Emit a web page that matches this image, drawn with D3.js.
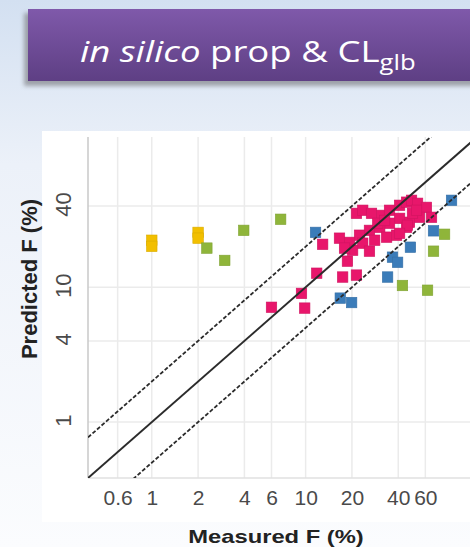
<!DOCTYPE html>
<html>
<head>
<meta charset="utf-8">
<script src="https://cdn.jsdelivr.net/npm/d3@7"></script>
<style>
  html, body { margin: 0; padding: 0; overflow: hidden; }
  svg { display: block; }
</style>
</head>
<body>
<div id="chart"></div>
<script>
// tick labels
const xTicks = [0.6, 1, 2, 4, 6, 10, 20, 40, 60];
const yTicks = [1, 4, 10, 40];

// [measured F, predicted F] per compound group
const yellowPts = [[1, 22.3], [1, 20.1], [2, 25.5], [2, 23.1]];
const greenPts = [[2.28, 19.5], [2.98, 15.8], [3.96, 26.4], [6.88, 31.9],
  [80, 24.7], [67.8, 18.5], [42.6, 10.3], [62, 9.5]];
const bluePts = [[11.6, 25.5], [88.8, 44.1], [67.8, 26.2], [48, 19.8],
  [36.7, 16.7], [39.6, 15.3], [34.1, 11.9], [16.8, 8.3], [19.9, 7.7]];
const pinkPts = [[21.4, 35.3], [23.5, 37.2], [26.8, 35.3], [31.2, 34.1],
  [35.1, 37.2], [40.8, 40.5], [45.3, 42.7], [48.8, 44.1], [53.4, 41.9],
  [61.0, 39.1], [65.8, 33.0], [55.0, 33.0], [47.3, 30.3], [40.8, 32.4],
  [35.1, 29.8], [30.3, 27.8], [26.0, 26.4], [22.4, 24.3], [16.6, 23.1],
  [19.3, 21.5], [23.5, 21.2], [28.1, 22.3], [33.6, 23.5], [39.0, 24.3],
  [45.3, 27.8], [12.9, 20.8], [26.0, 18.5], [20.2, 18.8], [18.7, 15.6],
  [11.8, 12.7], [17.4, 11.9], [21.4, 12.3], [9.4, 9.0], [9.86, 7.0],
  [6.0, 7.1], [49.5, 35.3], [29.4, 29.8], [17.9, 19.5], [45.9, 28.8],
  [40.8, 25.1], [32.6, 31.3], [52.6, 37.2]];

const ratios = [1, 2, 0.5];

const W = 470, H = 547;
const svg = d3.select("#chart").append("svg")
  .attr("width", W).attr("height", H);

const defs = svg.append("defs");
const bg = defs.append("linearGradient").attr("id", "bg")
  .attr("x1", 0).attr("y1", 0).attr("x2", 0).attr("y2", 1);
bg.append("stop").attr("offset", "0%").attr("stop-color", "#d3e0f1");
bg.append("stop").attr("offset", "30%").attr("stop-color", "#ecf1f9");
bg.append("stop").attr("offset", "100%").attr("stop-color", "#fbfcfe");

const banner = defs.append("linearGradient").attr("id", "banner")
  .attr("x1", 0).attr("y1", 0).attr("x2", 0).attr("y2", 1);
banner.append("stop").attr("offset", "0%").attr("stop-color", "#7f59aa");
banner.append("stop").attr("offset", "100%").attr("stop-color", "#5e3f84");

const blur = defs.append("filter").attr("id", "shadow")
  .attr("x", "-10%").attr("y", "-20%").attr("width", "120%").attr("height", "150%");
blur.append("feGaussianBlur").attr("stdDeviation", 2);

svg.append("rect").attr("width", W).attr("height", H).attr("fill", "url(#bg)");

// title banner
svg.append("rect").attr("x", 24).attr("y", 13).attr("width", 460).attr("height", 73)
  .attr("fill", "#8d9096").attr("opacity", 0.8).attr("filter", "url(#shadow)");
svg.append("rect").attr("x", 28).attr("y", 9).attr("width", 450).attr("height", 72)
  .attr("fill", "url(#banner)");

const title = svg.append("text")
  .attr("transform", "translate(80,62) scale(1.22,1)")
  .attr("fill", "#fff")
  .style("font-family", "'Open Sans', sans-serif")
  .style("font-size", "30px");
title.append("tspan").style("font-style", "italic").text("in silico");
title.append("tspan").text(" prop & CL");
title.append("tspan").attr("dy", 8).style("font-size", "21px").text("glb");

// chart picture area
svg.append("rect").attr("x", 42).attr("y", 131).attr("width", 440).attr("height", 391)
  .attr("fill", "#fff");

const pLeft = 88, pRight = 477, pTop = 137, pBottom = 478;

const x = d3.scaleLog().domain([0.385, 130]).range([pLeft, pRight]);
const y = d3.scaleLog().domain([0.385, 130]).range([pBottom, pTop]);

// grid
svg.append("g").selectAll("line").data(xTicks).join("line")
  .attr("x1", d => x(d)).attr("x2", d => x(d))
  .attr("y1", pTop).attr("y2", pBottom)
  .attr("stroke", "#ebebeb").attr("stroke-width", 1.5);
svg.append("g").selectAll("line").data(yTicks).join("line")
  .attr("y1", d => y(d)).attr("y2", d => y(d))
  .attr("x1", pLeft).attr("x2", pRight)
  .attr("stroke", "#ebebeb").attr("stroke-width", 1.5);

svg.append("line").attr("x1", pLeft).attr("x2", pLeft).attr("y1", pTop).attr("y2", pBottom)
  .attr("stroke", "#c8c8c8").attr("stroke-width", 1.5);
svg.append("line").attr("x1", pLeft).attr("x2", pRight).attr("y1", pBottom).attr("y2", pBottom)
  .attr("stroke", "#e0e0e0").attr("stroke-width", 1.5);

// axes via d3 axis generators, styled like the picture
const xAxis = svg.append("g")
  .attr("transform", "translate(0," + pBottom + ")")
  .call(d3.axisBottom(x).tickValues(xTicks).tickFormat(d3.format("~g")).tickSize(0).tickPadding(12));
xAxis.select(".domain").remove();
xAxis.selectAll("text")
  .attr("fill", "#4a4a4a")
  .style("font-family", "'Liberation Sans', Arial, sans-serif")
  .style("font-size", "21px");

const yAxis = svg.append("g")
  .attr("transform", "translate(" + pLeft + ",0)")
  .call(d3.axisLeft(y).tickValues(yTicks).tickFormat(d3.format("~g")).tickSize(0));
yAxis.select(".domain").remove();
yAxis.selectAll("text")
  .attr("x", null).attr("dy", null)
  .attr("text-anchor", "middle")
  .attr("transform", "translate(-17,-2) rotate(-90)")
  .attr("fill", "#4a4a4a")
  .style("font-family", "'Liberation Sans', Arial, sans-serif")
  .style("font-size", "22px");

// points
defs.append("clipPath").attr("id", "plot").append("rect")
  .attr("x", pLeft).attr("y", pTop).attr("width", pRight - pLeft).attr("height", pBottom - pTop);
const plot = svg.append("g").attr("clip-path", "url(#plot)");

const s = 10.5;
const groups = [
  { pts: yellowPts, color: "#f2bf00" },
  { pts: greenPts, color: "#8fb53a" },
  { pts: bluePts, color: "#3b7cb9" },
  { pts: pinkPts, color: "#e8166b" }
];
groups.forEach(g => {
  plot.append("g").selectAll("rect").data(g.pts).join("rect")
    .attr("x", d => x(d[0]) - s / 2)
    .attr("y", d => y(d[1]) - s / 2)
    .attr("width", s).attr("height", s)
    .attr("fill", g.color)
    .attr("stroke", d3.color(g.color).darker(0.3))
    .attr("stroke-width", 0.6);
});

// identity line and 2-fold lines
const lineX = [0.385, 130];
ratios.forEach(r => {
  plot.append("path")
    .datum(lineX)
    .attr("d", d3.line().x(d => x(d)).y(d => y(d * r)))
    .attr("fill", "none")
    .attr("stroke", "#2b2b2b")
    .attr("stroke-width", r === 1 ? 2 : 1.8)
    .attr("stroke-dasharray", r === 1 ? null : "4,2");
});

// axis titles
svg.append("text")
  .attr("transform", "translate(37,279) rotate(-90)")
  .attr("text-anchor", "middle")
  .attr("fill", "#222")
  .style("font-family", "'Liberation Sans', Arial, sans-serif")
  .style("font-weight", "bold")
  .style("font-size", "22px")
  .text("Predicted F (%)");

svg.append("text")
  .attr("transform", "translate(276,543) scale(1.25,1)")
  .attr("text-anchor", "middle")
  .attr("fill", "#222")
  .style("font-family", "'Liberation Sans', Arial, sans-serif")
  .style("font-weight", "bold")
  .style("font-size", "19px")
  .text("Measured F (%)");
</script>
</body>
</html>
